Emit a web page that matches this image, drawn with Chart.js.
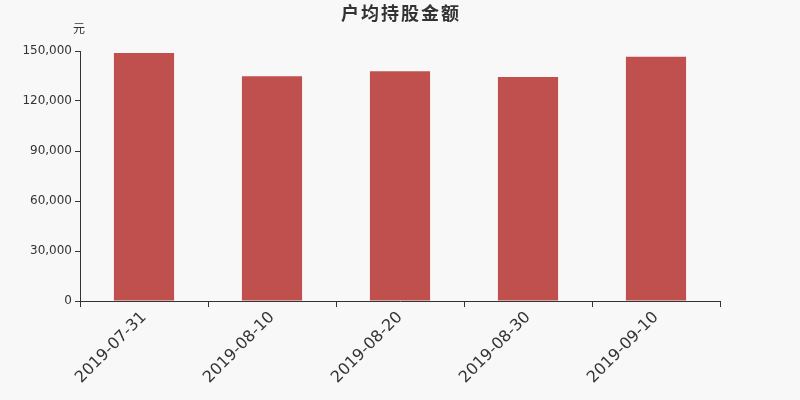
<!DOCTYPE html>
<html>
<head>
<meta charset="utf-8">
<script src="https://cdn.jsdelivr.net/npm/chart.js@4"></script>
<style>
  html, body { margin: 0; padding: 0; background: #f8f8f8; }
  #wrap { width: 800px; height: 400px; }
</style>
</head>
<body>
<div id="wrap"><canvas id="chart" width="800" height="400"></canvas></div>
<script>
// 数据
const fechas = ['2019-07-31', '2019-08-10', '2019-08-20', '2019-08-30', '2019-09-10'];
const montos = [148800, 134800, 137800, 134400, 146600];
const yTicks = [0, 30000, 60000, 90000, 120000, 150000];

const titulo = '户均持股金额';
const unidad = '元';

// texto del título y la unidad
const textoPlugin = {
    id: 'textoPlugin',
    afterDraw(chart) {
        const ctx = chart.ctx;
        ctx.save();
        ctx.fillStyle = '#333';
        ctx.textAlign = 'center';
        ctx.textBaseline = 'middle';
        ctx.font = 'bold 18px "Noto Sans CJK SC", sans-serif';
        ctx.letterSpacing = '2px';
        ctx.fillText(titulo, 401, 13);
        ctx.letterSpacing = '0px';
        ctx.font = '12px "Noto Sans CJK SC", sans-serif';
        ctx.fillText(unidad, 79, 28);
        ctx.restore();
    }
};

const ctx = document.getElementById('chart').getContext('2d');
const chart = new Chart(ctx, {
    type: 'bar',
    data: {
        labels: fechas,
        datasets: [{
            data: montos,
            backgroundColor: '#c0504d',
            borderWidth: 0,
            categoryPercentage: 1,
            barPercentage: 0.47
        }]
    },
    options: {
        responsive: false,
        animation: false,
        layout: { padding: { top: 51, right: 80, left: 0, bottom: 0 } },
        plugins: {
            legend: { display: false },
            tooltip: { enabled: false }
        },
        scales: {
            x: {
                afterFit(scale) { scale.height = 99; },
                grid: {
                    offset: true,
                    drawOnChartArea: false,
                    tickLength: 6,
                    color: '#333'
                },
                border: { color: '#333' },
                ticks: {
                    minRotation: 45,
                    maxRotation: 45,
                    color: '#333',
                    padding: 1,
                    font: { family: 'DejaVu Sans', size: 16 }
                }
            },
            y: {
                min: 0,
                max: 150000,
                afterFit(scale) { scale.width = 80; },
                afterBuildTicks(scale) {
                    scale.ticks = yTicks.map(v => ({ value: v }));
                },
                grid: {
                    drawOnChartArea: false,
                    tickLength: 5,
                    color: '#333'
                },
                border: { color: '#333' },
                ticks: {
                    color: '#333',
                    padding: 3,
                    font: { family: 'DejaVu Sans', size: 12 },
                    callback: v => v.toLocaleString('en-US')
                }
            }
        }
    },
    plugins: [textoPlugin]
});
</script>
</body>
</html>
